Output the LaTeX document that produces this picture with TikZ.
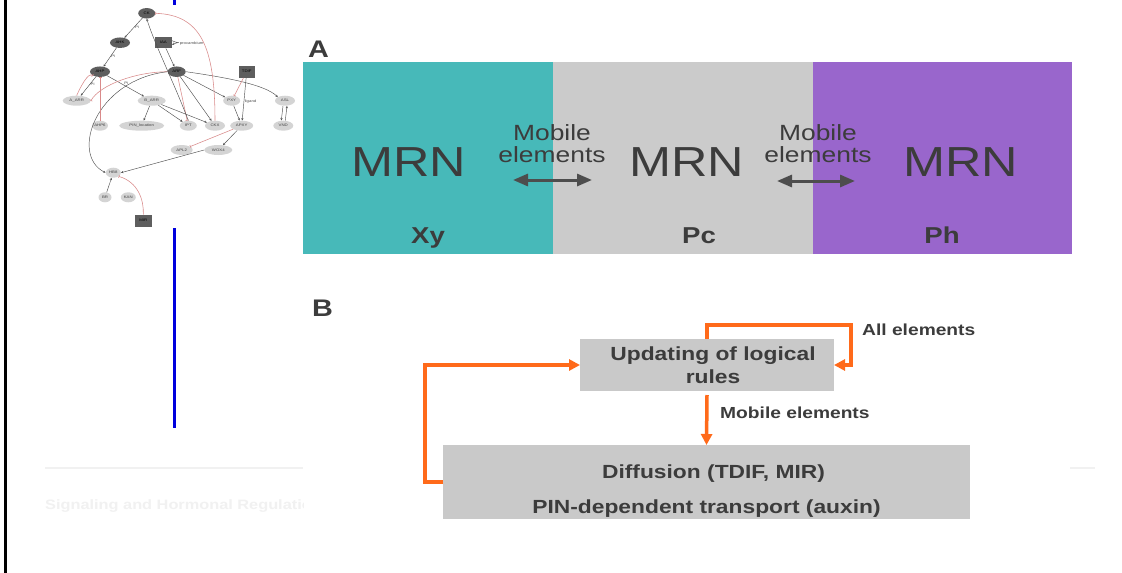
\documentclass[tikz,border=0pt]{standalone}
\usepackage{fontspec}
\setmainfont{Liberation Sans}
\newfontfamily\wide{Liberation Sans}[FakeStretch=1.2]
\usetikzlibrary{arrows.meta,calc,shapes.geometric}

\definecolor{xyteal}{HTML}{47B9B9}
\definecolor{pcgray}{HTML}{CBCBCB}
\definecolor{phpurple}{HTML}{9966CC}
\definecolor{ink}{HTML}{3C3C3C}
\definecolor{arrowgray}{HTML}{4D4D4D}
\definecolor{flow}{HTML}{FF6A1A}
\definecolor{boxgray}{HTML}{C9C9C9}
\definecolor{netdark}{HTML}{5E5E5E}
\definecolor{netlight}{HTML}{D4D4D4}
\definecolor{netred}{HTML}{D98A8A}
\definecolor{netline}{HTML}{505050}
\definecolor{pageblue}{HTML}{0000DD}
\definecolor{faint}{HTML}{F1F1F1}

\begin{document}
\begin{tikzpicture}[x=1pt,y=-1pt,
  zone/.style={inner sep=0, outer sep=0, anchor=north west, minimum height=192pt},
  mrn/.style={font=\wide\fontsize{42}{42}\selectfont, text=ink, inner sep=0},
  mob/.style={font=\wide\fontsize{22}{22}\selectfont, text=ink, align=center, inner sep=0},
  tissue/.style={font=\wide\bfseries\fontsize{23}{23}\selectfont, text=ink, anchor=base, inner sep=0},
  panel/.style={font=\wide\bfseries\fontsize{24}{24}\selectfont, text=ink, anchor=base west, inner sep=0},
  swap/.style={arrowgray, line width=3pt, {Triangle[length=15pt,width=12pt]}-{Triangle[length=15pt,width=12pt]}},
  rulebox/.style={fill=boxgray, inner sep=0, outer sep=0, text=ink, align=center},
  flowline/.style={flow, line width=3.5pt, line join=miter, -{Triangle[length=11pt,width=11pt]}},
  flowlab/.style={font=\wide\bfseries\fontsize{16}{16}\selectfont, text=ink, anchor=west, inner sep=0},
  netfont/.style={font=\wide\fontsize{3.6}{4}\selectfont},
  nd/.style={ellipse, fill=netdark, inner sep=0, minimum height=10.5pt, minimum width=#1, netfont, text=black},
  nl/.style={ellipse, fill=netlight, inner sep=0, minimum height=10pt, minimum width=#1, netfont, text=black!75},
  nb/.style={rectangle, fill=netdark, inner sep=0, minimum height=11pt, minimum width=17pt, netfont, text=black},
  ed/.style={netline, line width=0.45pt, -{Stealth[length=2.4pt,width=2.2pt]}},
  inh/.style={netred, line width=0.55pt, -{Bar[width=3pt,line width=0.6pt]}},
  pil/.style={netfont, text=black!70, inner sep=0.6pt}
]
\useasboundingbox (0,0) rectangle (1122,573);
\fill[white] (0,0) rectangle (1122,573);

% page frame, rule and faded caption behind the figure
\fill[black] (4,0) rectangle (7,573);
\draw[pageblue, line width=3pt] (174,0) -- (174,5);
\draw[pageblue, line width=3pt] (174,228) -- (174,428);
\draw[faint, line width=1.5pt] (45,468) -- (303,468);
\draw[faint, line width=1.5pt] (1070,468) -- (1095,468);
\begin{scope}
  \clip (40,490) rectangle (303,522);
  \node[font=\wide\bfseries\fontsize{13.6}{13.6}\selectfont, text=faint, anchor=west, inner sep=0] (caption) at (45,506) {Signaling and Hormonal Regulation};
\end{scope}

% ---------- regulatory network thumbnail ----------
\node[nd=17pt] (CK) at (146.7,13.3) {CK};
\node[nd=20pt] (AHK) at (120,42.7) {AHK};
\node[nb] (IAA) at (163.3,42.7) {IAA};
\node[nd=20pt] (AHP) at (100,71.7) {AHP};
\node[nd=18pt] (ARF) at (176.7,71.7) {ARF};
\node[nb, minimum width=16pt, minimum height=12pt] (TDIF) at (246.7,71.7) {TDIF};
\node[nl=28pt] (AARR) at (76.7,100.7) {A\_ARR};
\node[nl=28pt] (BARR) at (151.7,100.7) {B\_ARR};
\node[nl=17pt] (PXY) at (231.7,100.7) {PXY};
\node[nl=20pt] (ASL) at (285,100.7) {ASL};
\node[nl=15pt] (AHP6) at (100,125.7) {AHP6};
\node[nl=45pt] (PIN) at (141.7,125.7) {PIN\_location};
\node[nl=17pt] (IPT) at (188.3,125.7) {IPT};
\node[nl=20pt] (CKX) at (215,125.7) {CKX};
\node[nl=23pt] (APXY) at (241.7,125.7) {APXY};
\node[nl=20pt] (VND) at (283.3,125.7) {VND};
\node[nl=22pt] (APL) at (181.7,150) {APL2};
\node[nl=28pt] (WOX) at (218.3,150) {WOX4};
\node[nl=15pt] (HB8) at (113.3,172.7) {HB8};
\node[nl=13pt] (BR) at (105,197.3) {BR};
\node[nl=15pt] (KAN) at (128.3,197.3) {KAN};
\node[nb, minimum height=12pt] (MIR) at (143.3,220.7) {MIR};

\draw[ed] (CK) -- node[pil, right, pos=0.45] {Pi} (AHK);
\draw[ed] (AHK) -- node[pil, right, pos=0.45] {Pi} (AHP);
\draw[ed] (AHP) -- node[pil, right, pos=0.4] {Pi} (AARR);
\draw[ed] (AHP) -- node[pil, above right, pos=0.45] {Pi} (BARR);
\draw[ed] (IAA) -- (ARF);
\draw[ed] ([yshift=2pt]IAA.east) .. controls +(9,4) and +(9,-4) .. ([yshift=-2pt]IAA.east)
  node[pil, anchor=west, xshift=7pt, yshift=1.5pt] (proc) {procambium};
\draw[ed] (ARF) -- (PXY);
\draw[ed] (ARF.east) .. controls (230,78) and (265,85) .. (ASL.north west);
\draw[ed] (ARF) -- (CKX);
\draw[inh] (ARF) -- (IPT);
\draw[inh] (ARF.west) .. controls (135,72) and (100,85) .. (AARR.east);
\draw[ed] (ARF.west) .. controls (95,80) and (70,155) .. (HB8.west);
\draw[ed] (BARR) -- (PIN);
\draw[ed] (BARR) -- (IPT);
\draw[ed] (BARR) -- (CKX);
\draw[ed] (IPT.north) .. controls (175,85) and (155,45) .. (CK.south);
\draw[inh] (CKX.north) .. controls (215,45) and (200,15) .. (CK.east);
\draw[inh] (TDIF) -- (PXY);
\draw[ed] (TDIF) -- node[pil, right, pos=0.55] {ligand} (APXY);
\draw[ed] (PXY) -- (APXY);
\draw[ed] ([xshift=-2pt]ASL.south) -- ([xshift=-2pt]VND.north);
\draw[ed] ([xshift=2pt]VND.north) -- ([xshift=2pt]ASL.south);
\draw[inh] (APXY) -- (APL);
\draw[ed] (APXY) -- (WOX);
\draw[ed] (WOX.west) -- (HB8.east);
\draw[ed] (BR) -- (HB8);
\draw[inh] (MIR.north) .. controls (144,200) and (138,182) .. (HB8.south east);
\draw[inh] (AARR.north) .. controls (80,88) and (88,72) .. (AHP.south west);
\draw[inh] (AHP6.north) -- (AHP.south);

% ---------- panel A: three tissues ----------
\node[panel] (labA) at (308,57) {A};
\node[zone, fill=xyteal, minimum width=251pt] (xy) at (303,62) {};
\node[zone, fill=pcgray, minimum width=260pt] (pc) at (553,62) {};
\node[zone, fill=phpurple, minimum width=259pt] (ph) at (813,62) {};

\node[mrn] (mrn1) at (409,162) {MRN};
\node[mrn] (mrn2) at (687,162) {MRN};
\node[mrn] (mrn3) at (961,162) {MRN};

\node[mob] (mob1) at (552,144) {Mobile\\elements};
\node[mob] (mob2) at (818,144) {Mobile\\elements};

\coordinate (s1a) at (513,180);
\coordinate (s1b) at (592,180);
\coordinate (s2a) at (777,181);
\coordinate (s2b) at (855,181);
\draw[swap] (s1a) -- (s1b);
\draw[swap] (s2a) -- (s2b);

\node[tissue] (txy) at (428,243) {Xy};
\node[tissue] (tpc) at (699,243) {Pc};
\node[tissue] (tph) at (942,243) {Ph};

% ---------- panel B: update scheme ----------
\node[panel] (labB) at (312,316) {B};
\node[rulebox, minimum width=254pt, minimum height=52pt,
      font=\wide\bfseries\fontsize{19}{23}\selectfont] (up) at (707,365)
      {\hspace*{12pt}Updating of logical\\\hspace*{12pt}rules};
\node[rulebox, minimum width=527pt, minimum height=74pt,
      font=\wide\bfseries\fontsize{19}{35}\selectfont] (low) at (706.5,482)
      {\rule{0pt}{32pt}\hspace*{14pt}Diffusion (TDIF, MIR)\\PIN-dependent transport (auxin)};

\coordinate (loopR) at (851,365);
\coordinate (loopT) at (707,325);
\draw[flowline] (up.north) -- (loopT) -| (loopR) -- (up.east);
\node[flowlab] (all) at (862,330) {All elements};

\draw[flowline] ([yshift=-4pt]up.south) -- (low.north);
\node[flowlab] (mobB) at (720,413) {Mobile elements};

\coordinate (backL) at (425,482);
\draw[flowline] (low.west) -- (backL) |- (up.west);
\end{tikzpicture}
\end{document}
